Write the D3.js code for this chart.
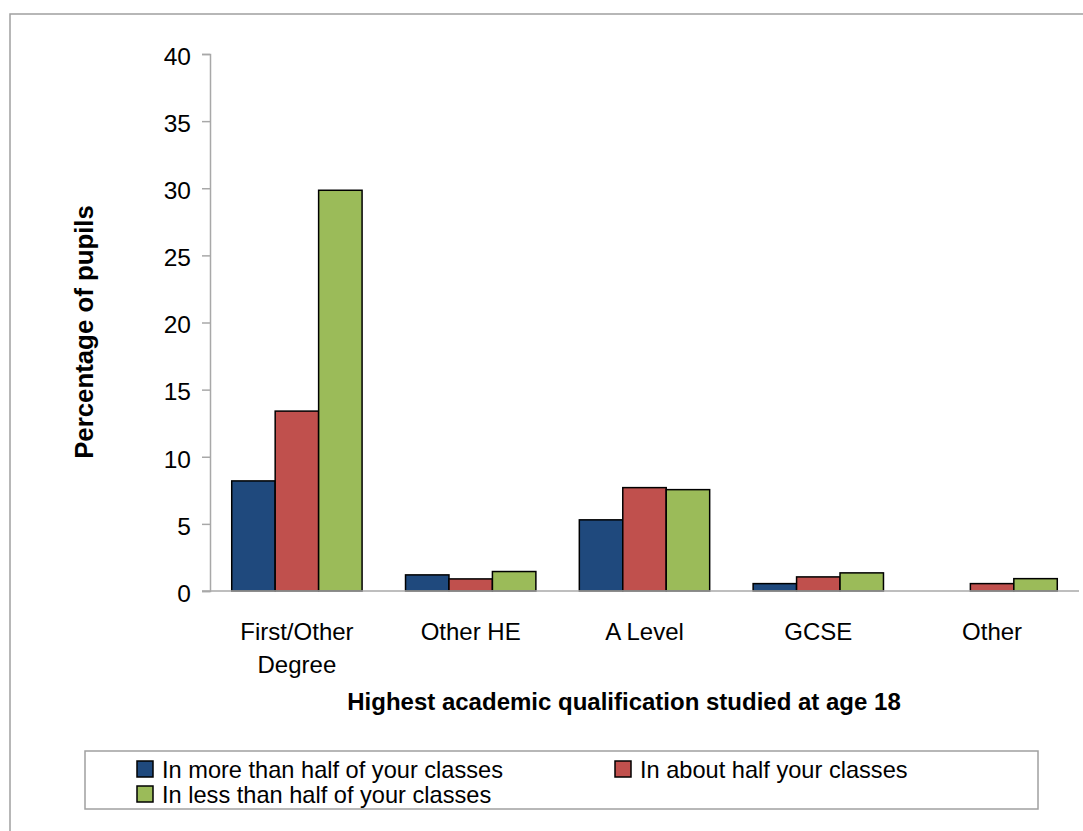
<!DOCTYPE html>
<html>
<head>
<meta charset="utf-8">
<script src="https://cdn.jsdelivr.net/npm/d3@7"></script>
<style>
  body { margin: 0; background: #fff; }
  svg { font-family: "Liberation Sans", Arial, sans-serif; }
</style>
</head>
<body>
<script>
// Chart data
const categories = ["First/Other Degree", "Other HE", "A Level", "GCSE", "Other"];
const categoryLines = [["First/Other", "Degree"], ["Other HE"], ["A Level"], ["GCSE"], ["Other"]];
const seriesNames = ["In more than half of your classes", "In about half your classes", "In less than half of your classes"];
const moreThanHalf = [8.2, 1.2, 5.3, 0.55, null];
const aboutHalf = [13.4, 0.9, 7.7, 1.05, 0.55];
const lessThanHalf = [29.85, 1.45, 7.55, 1.35, 0.92];
const yTicks = [0, 5, 10, 15, 20, 25, 30, 35, 40];
const colors = ["#1f497d", "#c0504d", "#9bbb59"];

const seriesValues = [moreThanHalf, aboutHalf, lessThanHalf];

// Set up dimensions
const width = 1083, height = 831;
const plot = { left: 210, right: 1079, top: 54, bottom: 591 };

const svg = d3.select("body")
    .append("svg")
    .attr("width", width)
    .attr("height", height);

// Outer chart frame (runs off the page on the right and bottom)
svg.append("rect")
    .attr("x", 10)
    .attr("y", 14)
    .attr("width", 1200)
    .attr("height", 1000)
    .attr("fill", "none")
    .attr("stroke", "#a0a0a0")
    .attr("stroke-width", 1.5);

// Scales
const x = d3.scaleBand()
    .domain(categories)
    .range([plot.left, plot.right])
    .paddingInner(0.25)
    .paddingOuter(0.125);

const xSeries = d3.scaleBand()
    .domain(d3.range(seriesNames.length))
    .range([0, x.bandwidth()]);

const y = d3.scaleLinear()
    .domain([0, 40])
    .range([plot.bottom, plot.top]);

// Y axis
const yAxis = svg.append("g")
    .attr("transform", `translate(${plot.left},0)`)
    .call(d3.axisLeft(y).tickValues(yTicks).tickSize(8).tickPadding(11));

yAxis.select(".domain").attr("stroke", "#a8a8a8").attr("stroke-width", 1.5);
yAxis.selectAll(".tick line").attr("stroke", "#a8a8a8").attr("stroke-width", 1.5);
yAxis.selectAll(".tick text")
    .attr("font-size", 24.5)
    .attr("font-family", "Liberation Sans, Arial, sans-serif")
    .attr("fill", "#000")
    .attr("dy", "0.42em");

// Bars
const bars = [];
categories.forEach((c, i) => {
    seriesValues.forEach((vals, s) => {
        if (vals[i] != null) bars.push({ category: c, series: s, value: vals[i] });
    });
});

svg.append("g")
    .selectAll("rect")
    .data(bars)
    .enter()
    .append("rect")
    .attr("x", d => x(d.category) + xSeries(d.series))
    .attr("y", d => y(d.value))
    .attr("width", xSeries.bandwidth())
    .attr("height", d => y(0) - y(d.value))
    .attr("fill", d => colors[d.series])
    .attr("stroke", "#000")
    .attr("stroke-width", 1.5);

// X axis line (extends a little left of the y axis like the tick marks)
svg.append("line")
    .attr("x1", plot.left - 8)
    .attr("x2", plot.right)
    .attr("y1", y(0))
    .attr("y2", y(0))
    .attr("stroke", "#a8a8a8")
    .attr("stroke-width", 1.5);

// Category labels
const catLabels = svg.append("g")
    .selectAll("text")
    .data(categories)
    .enter()
    .append("text")
    .attr("text-anchor", "middle")
    .attr("font-size", 24)
    .attr("fill", "#000");

catLabels.each(function(d, i) {
    const t = d3.select(this);
    categoryLines[i].forEach((line, k) => {
        t.append("tspan")
            .attr("x", x(d) + x.bandwidth() / 2)
            .attr("y", 640 + k * 33)
            .text(line);
    });
});

// Axis titles
svg.append("text")
    .attr("x", 624)
    .attr("y", 710)
    .attr("text-anchor", "middle")
    .attr("font-size", 24)
    .attr("font-weight", "bold")
    .text("Highest academic qualification studied at age 18");

svg.append("text")
    .attr("transform", "translate(93,332) rotate(-90)")
    .attr("text-anchor", "middle")
    .attr("font-size", 25.8)
    .attr("font-weight", "bold")
    .text("Percentage of pupils");

// Legend
const legend = svg.append("g");

legend.append("rect")
    .attr("x", 85)
    .attr("y", 751)
    .attr("width", 953)
    .attr("height", 58)
    .attr("fill", "none")
    .attr("stroke", "#a0a0a0")
    .attr("stroke-width", 1.5);

const legendPos = [[137, 761], [615, 761], [137, 786]];

const items = legend.selectAll("g.item")
    .data(seriesNames)
    .enter()
    .append("g")
    .attr("class", "item")
    .attr("transform", (d, i) => `translate(${legendPos[i][0]},${legendPos[i][1]})`);

items.append("rect")
    .attr("width", 16)
    .attr("height", 16)
    .attr("fill", (d, i) => colors[i])
    .attr("stroke", "#000")
    .attr("stroke-width", 1.5);

items.append("text")
    .attr("x", 25)
    .attr("y", 17)
    .attr("font-size", 23.6)
    .attr("fill", "#000")
    .text(d => d);
</script>
</body>
</html>
